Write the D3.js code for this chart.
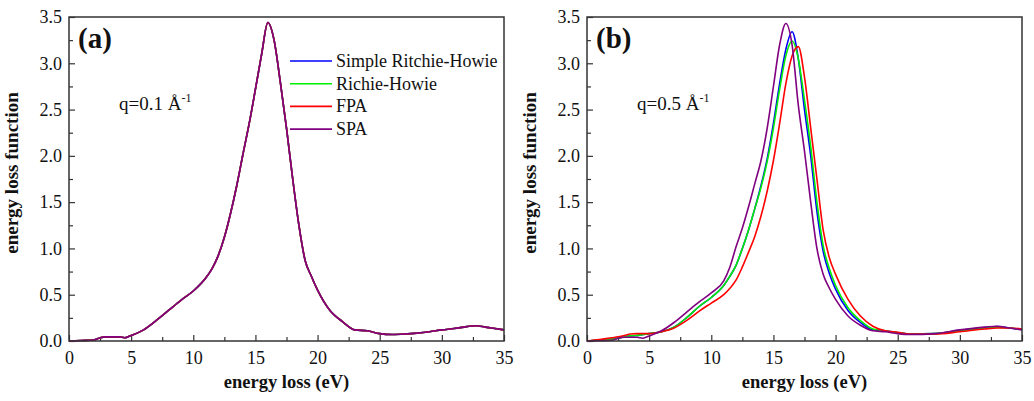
<!DOCTYPE html>
<html>
<head>
<meta charset="utf-8">
<script src="https://cdn.jsdelivr.net/npm/d3@7"></script>
<style>
  body { margin: 0; background: #fff; }
  svg text { font-family: "Liberation Serif", "Times New Roman", "DejaVu Serif", serif; fill: #111; }
</style>
</head>
<body>
<div id="chart"></div>
<script>
// energies (eV) and loss function values
var energyA = [0, 1, 2, 2.5, 3, 4, 4.5, 5, 6, 7, 8, 9, 10, 11, 11.5, 12, 12.5, 13, 13.5, 14, 14.5, 15, 15.5, 16, 16.5, 17, 17.5, 18, 18.5, 19, 19.5, 20, 21, 22, 23, 24, 25, 26, 27, 28, 29, 30, 31, 32, 32.7, 33.5, 34, 35];
var srhA = [0, 0.005, 0.01, 0.035, 0.045, 0.045, 0.035, 0.06, 0.12, 0.22, 0.33, 0.44, 0.54, 0.68, 0.78, 0.92, 1.12, 1.38, 1.68, 2.02, 2.35, 2.72, 3.1, 3.44, 3.25, 2.8, 2.3, 1.75, 1.25, 0.87, 0.7, 0.55, 0.33, 0.21, 0.12, 0.11, 0.08, 0.07, 0.075, 0.085, 0.1, 0.12, 0.135, 0.155, 0.165, 0.15, 0.14, 0.12];
var rhA = srhA.slice();
var fpaA = srhA.slice();
var spaA = srhA.slice();

var energyB = [0, 1, 2, 2.5, 3, 3.5, 4, 4.5, 5, 6, 7, 8, 9, 10, 11, 11.5, 12, 12.5, 13, 13.5, 14, 14.5, 15, 15.5, 16, 16.5, 17, 17.5, 18, 18.5, 19, 19.5, 20, 21, 22, 23, 24, 25, 26, 28, 30, 32, 33, 34, 35];
var srhB = [0, 0.01, 0.02, 0.03, 0.045, 0.055, 0.06, 0.07, 0.08, 0.1, 0.15, 0.25, 0.37, 0.47, 0.6, 0.7, 0.82, 1.0, 1.2, 1.43, 1.68, 1.97, 2.35, 2.78, 3.15, 3.34, 3.05, 2.5, 2.0, 1.4, 0.97, 0.73, 0.56, 0.33, 0.2, 0.12, 0.11, 0.09, 0.075, 0.08, 0.115, 0.145, 0.155, 0.14, 0.125];
var rhB = [0, 0.01, 0.02, 0.03, 0.045, 0.055, 0.06, 0.07, 0.08, 0.1, 0.15, 0.25, 0.37, 0.47, 0.6, 0.7, 0.82, 1.0, 1.2, 1.43, 1.66, 1.94, 2.3, 2.72, 3.08, 3.24, 3.05, 2.6, 2.1, 1.5, 1.03, 0.78, 0.6, 0.36, 0.22, 0.13, 0.11, 0.09, 0.075, 0.08, 0.11, 0.14, 0.15, 0.14, 0.125];
var fpaB = [0, 0.015, 0.035, 0.045, 0.06, 0.075, 0.08, 0.08, 0.08, 0.1, 0.14, 0.22, 0.32, 0.41, 0.5, 0.57, 0.66, 0.8, 0.96, 1.13, 1.35, 1.62, 1.95, 2.35, 2.78, 3.08, 3.18, 2.85, 2.3, 1.75, 1.2, 0.9, 0.72, 0.45, 0.27, 0.16, 0.11, 0.095, 0.075, 0.075, 0.1, 0.13, 0.14, 0.14, 0.13];
var spaB = [0, 0.003, 0.008, 0.03, 0.04, 0.04, 0.04, 0.03, 0.055, 0.11, 0.2, 0.31, 0.42, 0.52, 0.65, 0.8, 1.02, 1.22, 1.45, 1.7, 1.95, 2.3, 2.75, 3.2, 3.43, 3.2, 2.55, 2.05, 1.5, 1.0, 0.72, 0.57, 0.45, 0.27, 0.17, 0.11, 0.1, 0.08, 0.07, 0.08, 0.12, 0.15, 0.16, 0.14, 0.12];

var seriesNames = ["Simple Ritchie-Howie", "Richie-Howie", "FPA", "SPA"];
var seriesColors = ["#0000ff", "#00ee00", "#ff0000", "#800080"];
var xTicks = [0, 5, 10, 15, 20, 25, 30, 35];
var yTicks = [0, 0.5, 1.0, 1.5, 2.0, 2.5, 3.0, 3.5];

var svg = d3.select("#chart").append("svg")
	.attr("width", 1034)
	.attr("height", 401);

// dibuja un panel
function drawPanel(left, label, qText, energy, series, showLegend) {
	var right = left + 435, top = 17, bottom = 341;

	var x = d3.scaleLinear().domain([0, 35]).range([left, right]);
	var y = d3.scaleLinear().domain([0, 3.5]).range([bottom, top]);

	var g = svg.append("g");

	// minor ticks
	var xMinor = d3.range(2.5, 35, 5);
	var yMinor = d3.range(0.25, 3.5, 0.5);

	g.append("g")
		.attr("transform", "translate(0," + bottom + ")")
		.call(d3.axisBottom(x).tickValues(xMinor).tickSize(-4).tickFormat(""))
		.call(function (s) { s.select(".domain").remove() });
	g.append("g")
		.attr("transform", "translate(" + left + ",0)")
		.call(d3.axisLeft(y).tickValues(yMinor).tickSize(-4).tickFormat(""))
		.call(function (s) { s.select(".domain").remove() });

	var xAxis = g.append("g")
		.attr("transform", "translate(0," + bottom + ")")
		.call(d3.axisBottom(x).tickValues(xTicks).tickSize(-6).tickPadding(10).tickFormat(d3.format("d")));
	xAxis.select(".domain").remove();
	xAxis.selectAll("text").style("font-size", "18px").attr("dy", "0.71em");

	var yAxis = g.append("g")
		.attr("transform", "translate(" + left + ",0)")
		.call(d3.axisLeft(y).tickValues(yTicks).tickSize(-6).tickPadding(7).tickFormat(d3.format(".1f")));
	yAxis.select(".domain").remove();
	yAxis.selectAll("text").style("font-size", "18px");

	g.selectAll(".tick line").attr("stroke", "#333").attr("stroke-width", 1.2);

	// lines
	var line = d3.line()
		.x(function (d) { return x(d[0]) })
		.y(function (d) { return y(d[1]) })
		.curve(d3.curveMonotoneX);

	series.forEach(function (vals, i) {
		var pts = energy.map(function (e, j) { return [e, vals[j]] });
		g.append("path")
			.attr("d", line(pts))
			.attr("fill", "none")
			.attr("stroke", seriesColors[i])
			.attr("stroke-width", 1.6);
	});

	// frame
	g.append("rect")
		.attr("x", left).attr("y", top)
		.attr("width", right - left).attr("height", bottom - top)
		.attr("fill", "none").attr("stroke", "#333").attr("stroke-width", 1.5);

	g.append("text")
		.attr("x", left + 9).attr("y", 48)
		.style("font-size", "29px").style("font-weight", "bold")
		.text(label);

	var q = g.append("text")
		.attr("x", left + 50).attr("y", 110)
		.style("font-size", "19px")
		.text(qText + " Å");
	q.append("tspan").attr("dy", -8).style("font-size", "12px").text("-1");

	g.append("text")
		.attr("x", (left + right) / 2).attr("y", 388)
		.attr("text-anchor", "middle")
		.style("font-size", "18.5px").style("font-weight", "bold")
		.text("energy loss (eV)");

	g.append("text")
		.attr("transform", "translate(" + (left - 51) + "," + ((top + bottom) / 2 - 6) + ") rotate(-90)")
		.attr("text-anchor", "middle")
		.style("font-size", "19px").style("font-weight", "bold")
		.text("energy loss function");

	if (showLegend) {
		seriesNames.forEach(function (n, i) {
			var yy = 61 + i * 22.7;
			g.append("line")
				.attr("x1", 290).attr("x2", 332)
				.attr("y1", yy).attr("y2", yy)
				.attr("stroke", seriesColors[i]).attr("stroke-width", 1.6);
			g.append("text")
				.attr("x", 336).attr("y", yy + 6)
				.style("font-size", "18px")
				.text(n);
		});
	}
}

drawPanel(69, "(a)", "q=0.1", energyA, [srhA, rhA, fpaA, spaA], true);
drawPanel(587, "(b)", "q=0.5", energyB, [srhB, rhB, fpaB, spaB], false);
</script>
</body>
</html>
